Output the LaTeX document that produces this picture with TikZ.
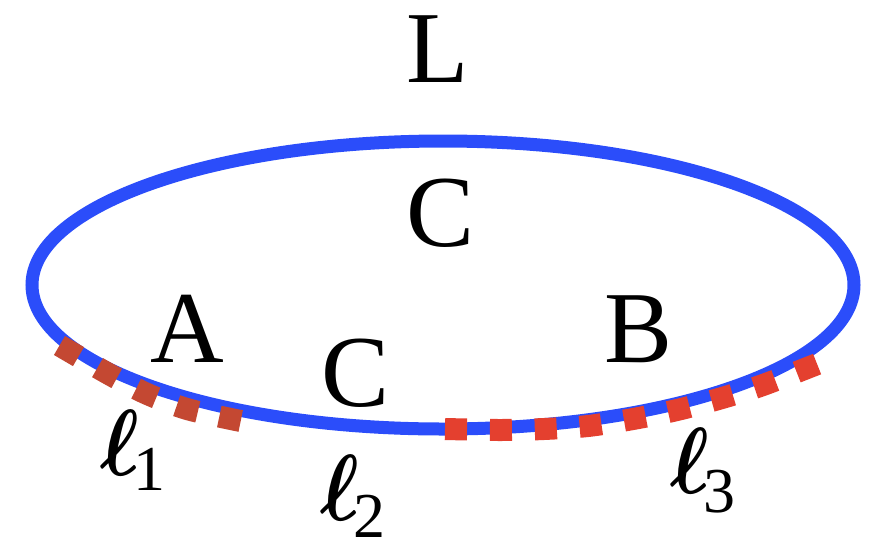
\documentclass[tikz,border=0pt]{standalone}
\usepackage{fontspec}
\usepackage{graphicx}
\setmainfont{Liberation Serif}
\definecolor{loopblue}{RGB}{43,77,250}
\definecolor{darkred}{RGB}{196,72,50}
\definecolor{brightred}{RGB}{228,64,47}
\newcommand{\bigell}{\scalebox{8.2}[9.4]{\boldmath$\ell$}}
\begin{document}
\begin{tikzpicture}[x=1pt,y=-1pt,
  letter/.style={inner sep=0pt,anchor=base,font=\fontsize{102}{102}\selectfont},
  ellab/.style={inner sep=0pt,anchor=base west},
  loopline/.style={draw=loopblue,line width=13pt},
  leftdash/.style={draw=darkred,line width=22pt,dash pattern=on 22pt off 22pt},
  rightdash/.style={draw=brightred,line width=22pt,dash pattern=on 22pt off 22.9pt}]
\useasboundingbox (0,0) rectangle (875,555);
% loop
\coordinate (ctr) at (443,285);
\draw[loopline] (ctr) ellipse [x radius=411pt, y radius=144pt];
% dashed segments
\draw[leftdash] plot[smooth] coordinates {(59.5,345.5) (107,373) (145,393) (187,409) (240.7,421)};
\draw[rightdash] plot[smooth] coordinates {(445,429) (500,430) (544,429) (588,426) (633,419) (677,410) (722,398) (763,385) (817.3,364)};
% letters
\node[letter] (L) at (438,82) {L};
\node[letter] (C1) at (441,246) {C};
\node[letter] (A) at (187,362) {A};
\node[letter] (C2) at (356,406) {C};
\node[letter] (B) at (639,362) {B};
% ell labels
\node[ellab] (l1) at (100,475) {\bigell\kern-6pt\raisebox{-15pt}{\fontsize{64}{64}\selectfont 1}};
\node[ellab] (l2) at (320,520) {\bigell\kern-6pt\raisebox{-17pt}{\fontsize{64}{64}\selectfont 2}};
\node[ellab] (l3) at (670,493) {\bigell\kern-6pt\raisebox{-19pt}{\fontsize{64}{64}\selectfont 3}};
\end{tikzpicture}
\end{document}
